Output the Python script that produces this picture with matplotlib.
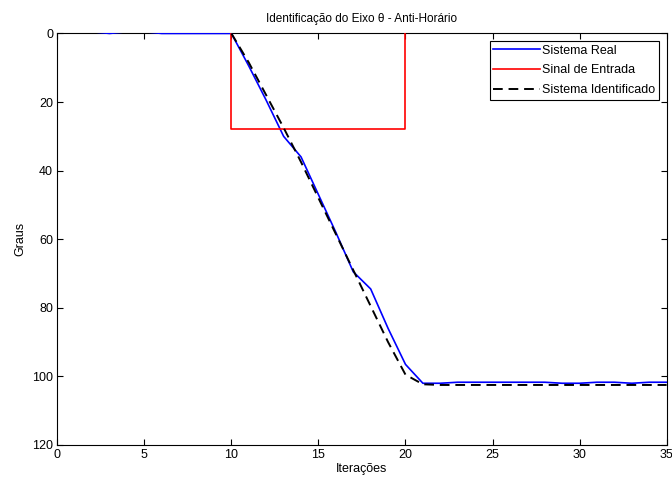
import numpy as np
import matplotlib
matplotlib.use("Agg")
import matplotlib.pyplot as plt

plt.rcParams['font.family'] = ['Liberation Sans', 'DejaVu Sans']
plt.rcParams['font.size'] = 9

## Dados
it_real = np.arange(0, 36)
sistema_real = [-0.5, -0.5, -0.5, 0, -0.5, -0.5, 0, 0, 0, 0,
                0, 9.5, 19.5, 30, 36, 47, 58, 69.5, 74.5, 86, 96.5,
                102, 102, 101.7, 101.7, 101.7, 101.7, 101.7, 101.7,
                102, 102, 101.7, 101.7, 102, 101.7, 101.7]

it_entrada = [10, 10, 20, 20]
sinal_entrada = [0, 28, 28, 0]

it_ident = np.arange(10, 36)
sistema_ident = [0, 8.5, 18, 27.5, 37.5, 48, 58.5, 69, 79.5, 90, 99.5,
                 102.3, 102.5, 102.5, 102.5, 102.5, 102.5, 102.5, 102.5,
                 102.5, 102.5, 102.5, 102.5, 102.5, 102.5, 102.5]

x_ticks = [0, 5, 10, 15, 20, 25, 30, 35]
y_ticks = [0, 20, 40, 60, 80, 100, 120]


fig = plt.figure(figsize=(6.72, 4.83), dpi=100)
ax = fig.add_axes([0.0853, 0.0787, 0.9067, 0.852])

ax.plot(it_real, sistema_real, color='#0000ff', lw=1.2, label='Sistema Real', zorder=3)
ax.plot(it_entrada, sinal_entrada, color='#ff0000', lw=1.2, label='Sinal de Entrada', zorder=3)
ax.plot(it_ident, sistema_ident, color='k', lw=1.4, ls=(0, (5, 3)), label='Sistema Identificado', zorder=3)

ax.set_xlim(0, 35)
ax.set_ylim(120, 0)
ax.set_xticks(x_ticks)
ax.set_yticks(y_ticks)
ax.tick_params(direction='in', length=4, width=0.8, top=True, right=True, pad=3)
for s in ax.spines.values():
	s.set_linewidth(0.8)

ax.set_title('Identificação do Eixo θ - Anti-Horário', fontsize=8.5, pad=8)
ax.set_xlabel('Iterações', labelpad=1)
ax.set_ylabel('Graus', labelpad=4)

leg = ax.legend(loc='upper right', fancybox=False, framealpha=1, edgecolor='k',
	handlelength=3.7, labelspacing=0.62, borderaxespad=0.6, handletextpad=0.2,
	borderpad=0.3)
leg.get_frame().set_linewidth(0.8)

fig.savefig('out.png', dpi=100)
